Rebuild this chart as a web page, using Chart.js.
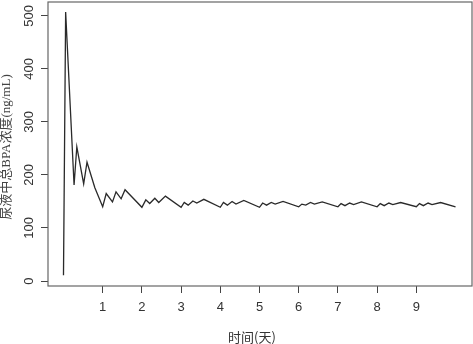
<!DOCTYPE html>
<html><head><meta charset="utf-8">
<script src="https://cdn.jsdelivr.net/npm/chart.js@4/dist/chart.umd.min.js"></script>
<style>html,body{margin:0;padding:0;background:#fff;}#wrap{width:473px;height:344px;}</style>
</head><body><div id="wrap"><canvas id="c" width="473" height="344"></canvas></div>
<script>
// time in days
const timeDays = [
  0, 0.055, 0.27, 0.34, 0.515, 0.6, 0.8,
  1.0, 1.09, 1.25, 1.34, 1.47, 1.57,
  2.0, 2.1, 2.2, 2.33, 2.43, 2.6,
  3.0, 3.08, 3.18, 3.3, 3.4, 3.58,
  4.0, 4.08, 4.18, 4.3, 4.4, 4.6,
  5.0, 5.08, 5.18, 5.3, 5.4, 5.6,
  6.0, 6.08, 6.18, 6.3, 6.4, 6.6,
  7.0, 7.08, 7.18, 7.3, 7.4, 7.6,
  8.0, 8.08, 8.18, 8.3, 8.4, 8.6,
  9.0, 9.08, 9.18, 9.3, 9.4, 9.62,
  10.0
];
// total urinary BPA concentration (ng/mL)
const bpaConc = [
  11, 507, 181, 253, 183, 224, 176,
  140, 165, 149, 168, 155, 172,
  139, 153, 146, 156, 148, 160,
  139, 148, 143, 151, 147, 154,
  139, 148, 143, 150, 145, 152,
  139, 147, 143, 148, 145, 150,
  140, 145, 143, 148, 145, 149,
  140, 146, 142, 147, 144, 149,
  140, 146, 142, 147, 144, 148,
  140, 146, 142, 147, 144, 148,
  140
];
const xTickDays = [1, 2, 3, 4, 5, 6, 7, 8, 9];
const yTickValues = [0, 100, 200, 300, 400, 500];
const xTitle = '时间(天)';
const yTitle = '尿液中总BPA浓度(ng/mL)';

const points = timeDays.map((t, i) => ({x: t, y: bpaConc[i]}));

const decor = {
  id: 'decor',
  afterDraw(chart) {
    const ctx = chart.ctx, a = chart.chartArea;
    ctx.save();
    ctx.strokeStyle = '#666';
    ctx.lineWidth = 1.2;
    ctx.strokeRect(a.left, a.top, a.right - a.left, a.bottom - a.top);
    // y tick labels (rotated, R style)
    const ys = chart.scales.y;
    ctx.fillStyle = '#333';
    ctx.font = '13px "Liberation Sans", Arial, sans-serif';
    ctx.textAlign = 'center';
    ctx.textBaseline = 'middle';
    ys.ticks.forEach(tk => {
      const py = ys.getPixelForValue(tk.value);
      ctx.save();
      ctx.translate(29, py);
      ctx.rotate(-Math.PI / 2);
      ctx.fillText(String(tk.value), 0, 0);
      ctx.restore();
    });
    // x title
    ctx.fillStyle = '#333';
    ctx.font = '13px "Noto Sans CJK SC", sans-serif';
    ctx.fillText(xTitle, 252, 337);
    // y title
    ctx.save();
    ctx.translate(7, 147);
    ctx.rotate(-Math.PI / 2);
    ctx.fillStyle = '#444';
    ctx.font = '13px "Liberation Serif", "Noto Sans CJK SC", serif';
    ctx.fillText(yTitle, 0, 0);
    ctx.restore();
    ctx.restore();
  }
};

new Chart(document.getElementById('c'), {
  type: 'line',
  data: {
    datasets: [{
      data: points,
      borderColor: '#2a2a2a',
      borderWidth: 1.3,
      pointRadius: 0,
      tension: 0,
      fill: false
    }]
  },
  options: {
    responsive: false,
    animation: false,
    devicePixelRatio: 1,
    layout: {padding: {top: 2, right: 1, left: 0, bottom: 0}},
    plugins: {legend: {display: false}, tooltip: {enabled: false}},
    scales: {
      x: {
        type: 'linear',
        min: -0.395,
        max: 10.42,
        afterBuildTicks: s => { s.ticks = xTickDays.map(v => ({value: v})); },
        afterFit: s => { s.height = 58; },
        border: {display: false},
        grid: {drawOnChartArea: false, drawTicks: true, tickLength: 7, color: '#444', lineWidth: 1},
        ticks: {
          autoSkip: false, maxRotation: 0, minRotation: 0, padding: 7,
          color: '#333',
          font: {family: '"Liberation Sans", Arial, sans-serif', size: 13}
        }
      },
      y: {
        type: 'linear',
        min: -9.4,
        max: 526,
        afterBuildTicks: s => { s.ticks = yTickValues.map(v => ({value: v})); },
        afterFit: s => { s.width = 48; },
        border: {display: false},
        grid: {drawOnChartArea: false, drawTicks: true, tickLength: 7, color: '#444', lineWidth: 1},
        ticks: {display: false}
      }
    }
  },
  plugins: [decor]
});
</script>
</body></html>
